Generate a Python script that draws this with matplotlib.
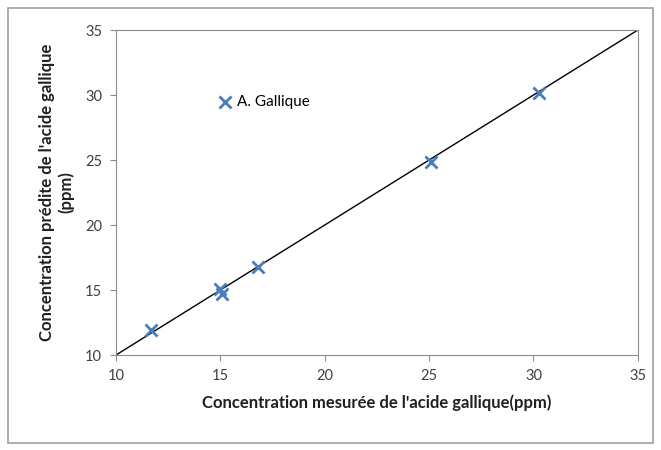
import matplotlib
matplotlib.use("Agg")
from matplotlib import pyplot as plt
from matplotlib.patches import Rectangle

# measured vs predicted gallic acid (ppm)
mesure = [11.7, 15.0, 15.1, 16.8, 25.1, 30.25]
predite = [11.9, 15.1, 14.7, 16.8, 24.85, 30.15]
ligne = [10, 35]
ticks = [10, 15, 20, 25, 30, 35]

plt.rcParams['font.family'] = ['Lato', 'DejaVu Sans']
grey = '#8c8c8c'

fig = plt.figure(figsize=(6.61, 4.5), dpi=100)
fig.patches.append(Rectangle((0.012, 0.016), 0.976, 0.966, transform=fig.transFigure,
                             fill=False, edgecolor='#a0a0a0', linewidth=1.2))
ax = fig.add_axes([0.1755, 0.2111, 0.7895, 0.7222])

ax.plot(ligne, ligne, color='black', linewidth=1)
ax.scatter(mesure, predite, marker='x', s=75, linewidths=2, color='#4a7ebb',
           label='A. Gallique', zorder=3)

ax.set_xlim(10, 35)
ax.set_ylim(10, 35)
ax.set_xticks(ticks)
ax.set_yticks(ticks)
ax.tick_params(colors=grey, labelcolor='#404040', labelsize=10.5, length=4, pad=6)
for s in ax.spines.values():
    s.set_color(grey)

ax.set_xlabel("Concentration mesurée de l'acide gallique(ppm)", fontweight='bold',
              fontsize=12, color='#202020', labelpad=8)
ax.set_ylabel("Concentration prédite de l'acide gallique\n(ppm)", fontweight='bold',
              fontsize=12, color='#202020', labelpad=8)

ax.legend(loc='upper left', bbox_to_anchor=(0.18, 0.82), frameon=False, fontsize=11,
          handlelength=1.2, handletextpad=0.2, borderaxespad=0, scatterpoints=1)

fig.savefig('out.png', dpi=100)
